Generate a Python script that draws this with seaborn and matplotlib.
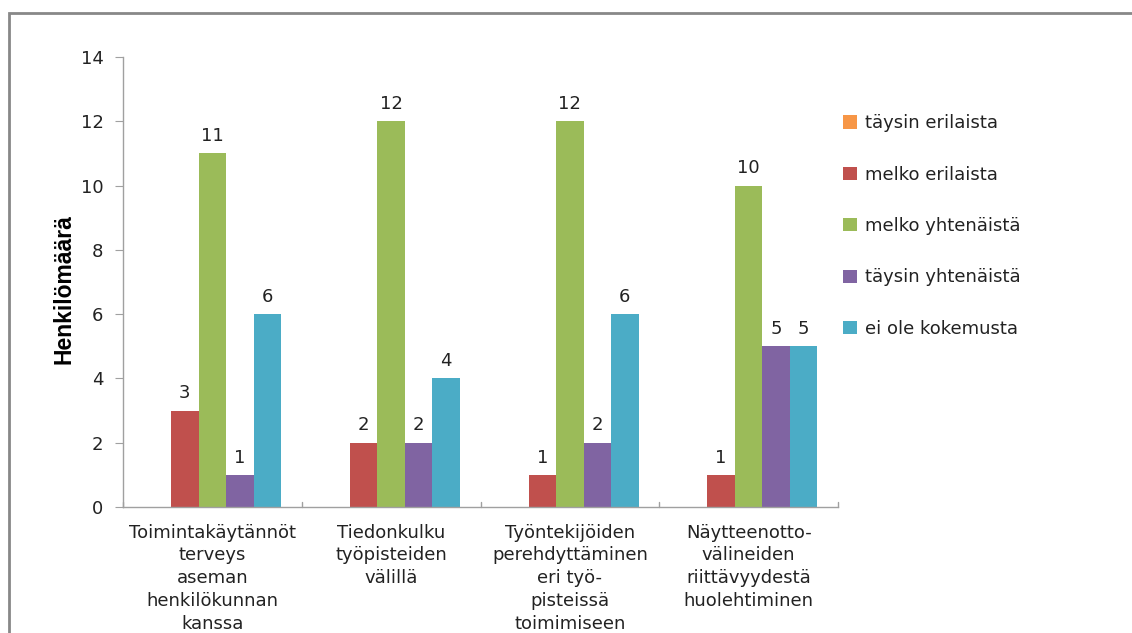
import matplotlib
matplotlib.use("Agg")
import matplotlib.pyplot as plt
import seaborn as sns
import pandas as pd
from matplotlib.patches import Rectangle
from matplotlib import font_manager

categories = [
    "Toimintakäytännöt\nterveys\naseman\nhenkilökunnan\nkanssa",
    "Tiedonkulku\ntyöpisteiden\nvälillä",
    "Työntekijöiden\nperehdyttäminen\neri työ-\npisteissä\ntoimimiseen",
    "Näytteenotto-\nvälineiden\nriittävyydestä\nhuolehtiminen",
]
series = ["täysin erilaista", "melko erilaista", "melko yhtenäistä",
          "täysin yhtenäistä", "ei ole kokemusta"]
taysin_erilaista = [0, 0, 0, 0]
melko_erilaista = [3, 2, 1, 1]
melko_yhtenaista = [11, 12, 12, 10]
taysin_yhtenaista = [1, 2, 2, 5]
ei_kokemusta = [6, 4, 6, 5]
colors = ["#F79646", "#C0504D", "#9BBB59", "#8064A2", "#4BACC6"]
yticks = [0, 2, 4, 6, 8, 10, 12, 14]

values = [taysin_erilaista, melko_erilaista, melko_yhtenaista,
          taysin_yhtenaista, ei_kokemusta]
rows = []
for s, vals in zip(series, values):
    for c, v in zip(categories, vals):
        rows.append({"Kategoria": c, "Sarja": s, "Arvo": v})
df = pd.DataFrame(rows)

sns.set_style("white")
plt.rcParams["font.family"] = ["DejaVu Sans"]

installed = {f.name for f in font_manager.fontManager.ttflist}
if "Liberation Sans Narrow" in installed:
    ylab_family, ylab_size = "Liberation Sans Narrow", 19
else:
    ylab_family, ylab_size = "Liberation Sans", 16.5

FS = 13
TXT = "#222222"

fig = plt.figure(figsize=(11.32, 6.33), dpi=100)
ax = fig.add_axes([123 / 1132, 1 - 507 / 633, (838 - 123) / 1132, (507 - 57) / 633])

sns.barplot(data=df, x="Kategoria", y="Arvo", hue="Sarja", order=categories,
            hue_order=series, palette=colors, width=0.77, gap=0,
            saturation=1, ax=ax, linewidth=0)

for cont in ax.containers:
    labels = [f"{int(b.get_height())}" if b.get_height() > 0 else "" for b in cont]
    ax.bar_label(cont, labels=labels, padding=6, fontsize=FS, color=TXT)

ax.set_ylim(0, 14)
ax.set_yticks(yticks)
ax.set_xlim(-0.5, len(categories) - 0.5)
ax.set_xlabel("")
ax.set_ylabel("Henkilömäärä", fontsize=ylab_size, fontweight="bold",
              family=[ylab_family, "DejaVu Sans"], color="black")
ax.yaxis.set_label_coords(-0.067, 0.484)
ax.tick_params(axis="y", length=6, color="#A0A0A0", labelsize=FS,
               labelcolor=TXT, left=True, pad=8)
ax.set_xticks(range(len(categories)))
ax.set_xticklabels(categories, fontsize=FS, color=TXT, linespacing=1.34)
ax.tick_params(axis="x", length=0, pad=12)
# category boundary ticks (inside)
for xb in [-0.5, 0.5, 1.5, 2.5, 3.5]:
    ax.plot([xb, xb], [0, 0.17], color="#A0A0A0", lw=1, clip_on=False)

for side in ["top", "right"]:
    ax.spines[side].set_visible(False)
for side in ["left", "bottom"]:
    ax.spines[side].set_color("#A0A0A0")
    ax.spines[side].set_linewidth(1)

ax.legend(loc="upper left", bbox_to_anchor=(836 / 1132, 1 - 107 / 633),
          bbox_transform=fig.transFigure, frameon=False, fontsize=FS,
          handlelength=0.75, handleheight=0.75, handletextpad=0.45,
          labelspacing=1.85, borderaxespad=0)
for t in ax.get_legend().get_texts():
    t.set_color(TXT)

fig.patches.append(Rectangle((9 / 1132, -0.1), 1.2, (1 - 13 / 633) + 0.1,
                             transform=fig.transFigure, fill=False,
                             edgecolor="#888888", lw=2, figure=fig))

fig.savefig("out.png", dpi=100, facecolor="white")
